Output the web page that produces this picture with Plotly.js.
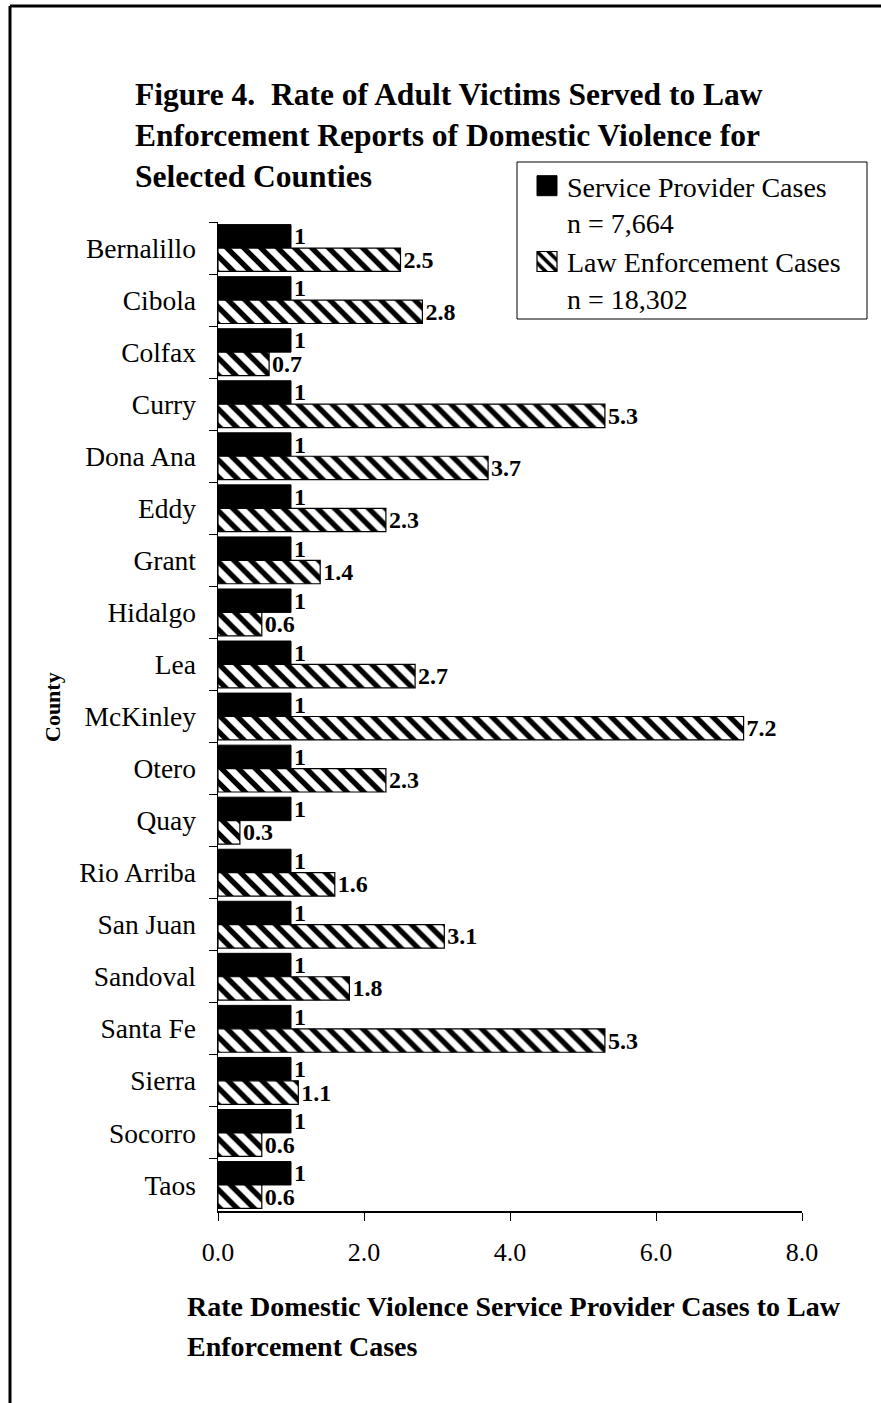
<!DOCTYPE html>
<html>
<head>
<meta charset="utf-8">
<script src="https://cdn.plot.ly/plotly-3.0.1.min.js"></script>
<style>
  html, body { margin: 0; padding: 0; background: #ffffff; }
  #chart { width: 881px; height: 1403px; }
</style>
</head>
<body>
<div id="chart"></div>
<script>
// ---- data ----
const counties = ["Bernalillo", "Cibola", "Colfax", "Curry", "Dona Ana", "Eddy", "Grant", "Hidalgo", "Lea", "McKinley", "Otero", "Quay", "Rio Arriba", "San Juan", "Sandoval", "Santa Fe", "Sierra", "Socorro", "Taos"];
const serviceProviderRate = [1, 1, 1, 1, 1, 1, 1, 1, 1, 1, 1, 1, 1, 1, 1, 1, 1, 1, 1];
const lawEnforcementRate = [2.5, 2.8, 0.7, 5.3, 3.7, 2.3, 1.4, 0.6, 2.7, 7.2, 2.3, 0.3, 1.6, 3.1, 1.8, 5.3, 1.1, 0.6, 0.6];
const seriesNames = ["Service Provider Cases<br>n = 7,664", "Law Enforcement Cases<br>n = 18,302"];
const xTickValues = [0, 2, 4, 6, 8];
const titleLines = ["Figure 4.&nbsp; Rate of Adult Victims Served to Law", "Enforcement Reports of Domestic Violence for", "Selected Counties"];
const xTitleLines = ["Rate Domestic Violence Service Provider Cases to Law", "Enforcement Cases"];
const yTitle = "County";

// ---- geometry helpers (plot area in px) ----
const W = 881, H = 1403;
const L = 218, R = 802, T = 222, B = 1211;
const px2x = p => (p - L) / (R - L);
const py2y = p => (B - p) / (B - T);

const serif = "'Liberation Serif', 'Times New Roman', serif";

const labelFont = { family: serif, size: 24, color: "#000000", weight: "bold" };

const traces = [
  {
    type: "bar",
    orientation: "h",
    name: seriesNames[0],
    y: counties,
    x: serviceProviderRate,
    text: serviceProviderRate.map(v => "<b>" + String(v) + "</b>"),
    marker: { color: "#000000", line: { color: "#000000", width: 1 } },
    textposition: "outside",
    constraintext: "none",
    textfont: labelFont,
    cliponaxis: false,
    hoverinfo: "skip"
  },
  {
    type: "bar",
    orientation: "h",
    name: seriesNames[1],
    y: counties,
    x: lawEnforcementRate,
    text: lawEnforcementRate.map(v => "<b>" + String(v) + "</b>"),
    marker: {
      color: "#ffffff",
      line: { color: "#000000", width: 1.2 },
      pattern: { shape: "\\", size: 12, solidity: 0.45, fgcolor: "#000000", bgcolor: "#ffffff", fillmode: "replace" }
    },
    textposition: "outside",
    constraintext: "none",
    textfont: labelFont,
    cliponaxis: false,
    hoverinfo: "skip"
  }
];

const annotations = [];
xTitleLines.forEach((t, i) => {
  annotations.push({
    xref: "paper", yref: "paper",
    x: px2x(185), y: py2y(1306 + i * 40),
    xanchor: "left", yanchor: "middle",
    text: "<b>" + t + "</b>",
    showarrow: false,
    font: { family: serif, size: 28, color: "#000000" }
  });
});
annotations.push({
  xref: "paper", yref: "paper",
  x: px2x(52), y: py2y(707),
  xanchor: "center", yanchor: "middle",
  text: "<b>" + yTitle + "</b>",
  textangle: -90,
  showarrow: false,
  font: { family: serif, size: 22, color: "#000000" }
});

const shapes = [
  // outer frame (left and top edges)
  { type: "line", xref: "paper", yref: "paper", x0: px2x(10), x1: px2x(10), y0: py2y(6), y1: py2y(1420), line: { color: "#000000", width: 3 } },
  { type: "line", xref: "paper", yref: "paper", x0: px2x(10), x1: px2x(900), y0: py2y(6), y1: py2y(6), line: { color: "#000000", width: 3 } },
  // legend box
  { type: "rect", xref: "paper", yref: "paper", x0: px2x(517), x1: px2x(867), y0: py2y(162), y1: py2y(319), line: { color: "#000000", width: 1 }, fillcolor: "rgba(0,0,0,0)" }
];

const layout = {
  width: W, height: H,
  margin: { l: L, r: W - R, t: T, b: H - B, pad: 0 },
  paper_bgcolor: "#ffffff",
  plot_bgcolor: "#ffffff",
  barmode: "group",
  bargap: 0.1,
  bargroupgap: 0,
  showlegend: true,
  title: {
    text: "<b>" + titleLines.join("<br>") + "</b>",
    xref: "container", yref: "container",
    x: 135 / W, xanchor: "left",
    y: 1 - 105 / H, yanchor: "top",
    pad: { t: 0, b: 0, l: 0, r: 0 },
    font: { family: serif, size: 31.5, color: "#000000" }
  },
  legend: {
    x: px2x(527), y: py2y(161),
    xanchor: "left", yanchor: "top",
    bgcolor: "rgba(0,0,0,0)",
    borderwidth: 0,
    valign: "top",
    traceorder: "normal",
    font: { family: serif, size: 28, color: "#000000" }
  },
  xaxis: {
    range: [0, 8],
    tickvals: xTickValues,
    tickformat: ".1f",
    ticks: "outside", ticklen: 8, tickwidth: 1, tickcolor: "#000000",
    ticklabelstandoff: 9,
    showline: true, linecolor: "#000000", linewidth: 1.5,
    showgrid: false, zeroline: false,
    tickfont: { family: serif, size: 26, color: "#000000" },
    fixedrange: true
  },
  yaxis: {
    type: "category",
    autorange: "reversed",
    ticks: "outside", tickson: "boundaries", ticklen: 8, tickwidth: 1, tickcolor: "#000000",
    ticklabelstandoff: 15,
    showline: true, linecolor: "#000000", linewidth: 1.5,
    showgrid: false, zeroline: false,
    tickfont: { family: serif, size: 27.5, color: "#000000" },
    fixedrange: true
  },
  annotations: annotations,
  shapes: shapes
};

Plotly.newPlot("chart", traces, layout, { staticPlot: true, displayModeBar: false }).then(() => {
  document.querySelectorAll("g.legendpoints path").forEach(p => {
    p.setAttribute("d", "M10,10H-10V-10H10Z");
  });
});
</script>
</body>
</html>
